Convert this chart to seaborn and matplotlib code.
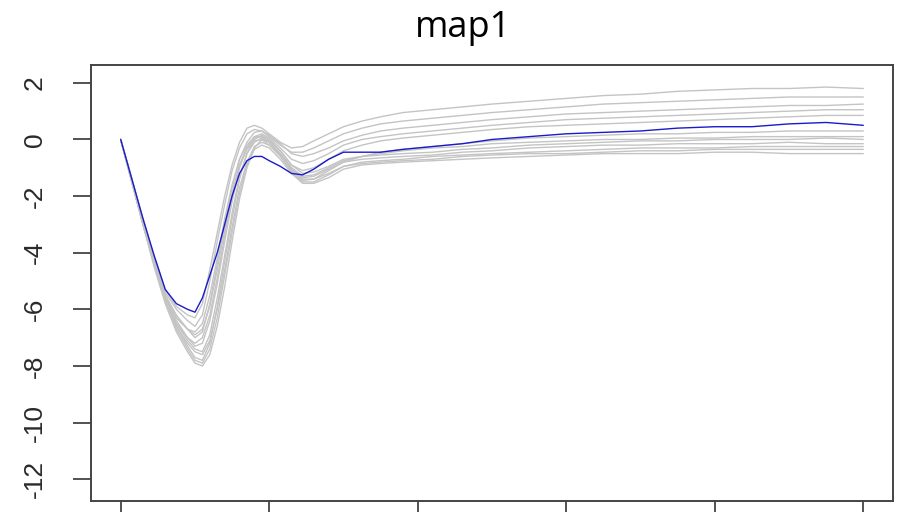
import matplotlib
matplotlib.use("Agg")
import matplotlib.pyplot as plt
import seaborn as sns
import pandas as pd

x = [0, 15, 30, 45, 60, 75, 90, 100, 110, 120, 130, 140, 150, 160, 170, 180, 190, 200,
     215, 230, 245, 260, 280, 300, 325, 350, 380, 420, 460, 500, 550, 600, 650, 700,
     750, 800, 850, 900, 950, 1000]

blue = [0, -1.4, -2.8, -4.1, -5.3, -5.8, -6.0, -6.1, -5.6, -4.8, -4.0, -3.0, -2.0, -1.2,
        -0.75, -0.6, -0.6, -0.75, -0.95, -1.2, -1.25, -1.05, -0.7, -0.45, -0.45, -0.45,
        -0.35, -0.25, -0.15, 0.0, 0.1, 0.2, 0.25, 0.3, 0.4, 0.45, 0.45, 0.55, 0.6, 0.5]

g1 = [0, -1.4, -2.8, -4.1, -5.3, -5.9, -6.2, -6.3, -5.8, -4.6, -3.3, -2.0, -0.9, -0.1, 0.4,
      0.5, 0.4, 0.2, -0.1, -0.3, -0.25, -0.05, 0.2, 0.45, 0.65, 0.8, 0.95, 1.05, 1.15, 1.25,
      1.35, 1.45, 1.55, 1.6, 1.7, 1.75, 1.8, 1.8, 1.85, 1.8]
g2 = [0, -1.4, -2.9, -4.2, -5.4, -6.0, -6.4, -6.6, -6.2, -5.0, -3.6, -2.3, -1.1, -0.3, 0.2,
      0.35, 0.3, 0.1, -0.2, -0.45, -0.45, -0.3, -0.05, 0.2, 0.4, 0.55, 0.65, 0.75, 0.85,
      0.95, 1.05, 1.15, 1.25, 1.3, 1.35, 1.4, 1.45, 1.5, 1.5, 1.5]
g3 = [0, -1.5, -3.0, -4.3, -5.5, -6.2, -6.7, -7.0, -6.8, -5.8, -4.4, -3.0, -1.7, -0.7, -0.1,
      0.25, 0.3, 0.15, -0.15, -0.5, -0.6, -0.5, -0.3, -0.05, 0.15, 0.3, 0.4, 0.5, 0.6, 0.7,
      0.8, 0.9, 0.95, 1.0, 1.05, 1.1, 1.15, 1.2, 1.2, 1.25]
g4 = [0, -1.5, -3.0, -4.4, -5.6, -6.4, -7.0, -7.3, -7.2, -6.4, -5.1, -3.6, -2.2, -1.0, -0.3,
      0.1, 0.2, 0.05, -0.3, -0.7, -0.85, -0.75, -0.5, -0.2, 0.0, 0.1, 0.2, 0.3, 0.4, 0.5,
      0.6, 0.7, 0.75, 0.8, 0.85, 0.9, 0.95, 1.0, 1.05, 1.05]
g5 = [0, -1.4, -2.9, -4.3, -5.6, -6.6, -7.3, -7.7, -7.8, -7.2, -5.9, -4.3, -2.8, -1.4, -0.5,
      0.0, 0.15, 0.0, -0.4, -0.9, -1.1, -1.0, -0.7, -0.4, -0.2, -0.05, 0.05, 0.15, 0.25,
      0.35, 0.45, 0.5, 0.55, 0.6, 0.65, 0.7, 0.75, 0.8, 0.85, 0.85]
g6 = [0, -1.5, -3.0, -4.5, -5.8, -6.8, -7.5, -7.9, -8.0, -7.6, -6.6, -5.2, -3.6, -2.1, -1.0,
      -0.3, 0.0, -0.1, -0.5, -1.1, -1.45, -1.4, -1.1, -0.8, -0.6, -0.45, -0.35, -0.25,
      -0.15, -0.05, 0.05, 0.1, 0.15, 0.2, 0.2, 0.25, 0.25, 0.3, 0.3, 0.3]
g7 = [0, -1.4, -2.9, -4.3, -5.6, -6.5, -7.1, -7.4, -7.5, -6.9, -5.6, -4.1, -2.6, -1.3, -0.5,
      -0.1, 0.05, -0.1, -0.5, -1.0, -1.3, -1.25, -1.0, -0.75, -0.6, -0.5, -0.4, -0.3,
      -0.25, -0.15, -0.1, -0.05, 0.0, 0.0, 0.05, 0.05, 0.1, 0.1, 0.1, 0.1]
g8 = [0, -1.5, -3.0, -4.4, -5.7, -6.5, -7.0, -7.2, -7.0, -6.2, -4.9, -3.4, -2.0, -0.9, -0.3,
      0.05, 0.1, -0.05, -0.4, -0.9, -1.2, -1.15, -0.95, -0.7, -0.6, -0.55, -0.5, -0.45,
      -0.35, -0.3, -0.2, -0.15, -0.1, -0.05, -0.05, 0.0, 0.0, 0.0, 0.05, 0.0]
g9 = [0, -1.4, -2.8, -4.2, -5.5, -6.3, -6.7, -6.8, -6.5, -5.5, -4.2, -2.8, -1.6, -0.7, -0.2,
      0.1, 0.1, -0.1, -0.5, -1.0, -1.35, -1.3, -1.05, -0.8, -0.7, -0.65, -0.6, -0.55,
      -0.45, -0.4, -0.3, -0.25, -0.2, -0.2, -0.15, -0.15, -0.15, -0.1, -0.15, -0.15]
g10 = [0, -1.5, -2.9, -4.3, -5.6, -6.6, -7.2, -7.5, -7.6, -7.1, -6.0, -4.6, -3.1, -1.7, -0.8,
       -0.25, -0.1, -0.2, -0.6, -1.15, -1.5, -1.5, -1.25, -0.95, -0.8, -0.75, -0.7, -0.6,
       -0.55, -0.5, -0.45, -0.4, -0.35, -0.3, -0.3, -0.3, -0.25, -0.25, -0.25, -0.25]
g11 = [0, -1.4, -2.9, -4.3, -5.5, -6.3, -6.7, -6.9, -6.7, -5.9, -4.6, -3.2, -1.9, -0.9, -0.35,
       -0.05, 0.0, -0.2, -0.55, -1.05, -1.4, -1.4, -1.2, -0.95, -0.85, -0.8, -0.75, -0.7,
       -0.6, -0.55, -0.5, -0.5, -0.45, -0.4, -0.4, -0.35, -0.35, -0.35, -0.35, -0.35]
g12 = [0, -1.5, -3.0, -4.4, -5.7, -6.7, -7.4, -7.8, -7.9, -7.4, -6.3, -4.8, -3.3, -1.9, -0.9,
       -0.35, -0.2, -0.3, -0.7, -1.2, -1.55, -1.55, -1.35, -1.05, -0.9, -0.85, -0.8, -0.75,
       -0.7, -0.65, -0.6, -0.55, -0.5, -0.5, -0.5, -0.45, -0.45, -0.5, -0.5, -0.5]

gray_lines = [g1, g2, g3, g4, g5, g6, g7, g8, g9, g10, g11, g12]
yticks = [2, 0, -2, -4, -6, -8, -10, -12]
xticks = [0, 200, 400, 600, 800, 1000]
title = "map1"

sns.set_theme(style="white")
plt.rcParams['font.family'] = ['Liberation Sans', 'DejaVu Sans']

rows = []
for k, ys in enumerate(gray_lines):
    for xv, yv in zip(x, ys):
        rows.append({"x": xv, "y": yv, "line": k})
df_gray = pd.DataFrame(rows)
df_blue = pd.DataFrame({"x": x, "y": blue})

fig = plt.figure(figsize=(8.97, 5.12), dpi=100)
ax = fig.add_axes([91 / 897, 11 / 512, (893 - 91) / 897, (501 - 65) / 512])

sns.lineplot(data=df_gray, x="x", y="y", units="line", estimator=None,
             color="#c4c4c4", linewidth=1.0, ax=ax, legend=False)
sns.lineplot(data=df_blue, x="x", y="y", color="#1a1acc", linewidth=1.0, ax=ax)

ax.set_xlim(-40, 1040)
ax.set_ylim(-12.77, 2.63)
ax.set_xticks(xticks)
ax.set_xticklabels([])
ax.set_yticks(yticks)
ax.set_yticklabels([str(t) for t in yticks], rotation=90, va="center", fontsize=19,
                   color="#2a2a2a")
ax.tick_params(axis="both", direction="out", length=13, width=1.3, color="#444444",
               left=True, bottom=True)
ax.tick_params(axis="y", pad=19)
ax.set_xlabel("")
ax.set_ylabel("")
for s in ax.spines.values():
    s.set_visible(True)
    s.set_color("#444444")
    s.set_linewidth(1.4)

fig.text(463 / 897, 1 - 37 / 512, title, ha="center", va="baseline",
         fontsize=26, family=["Open Sans", "DejaVu Sans"], color="#000000")

fig.savefig("out.png", dpi=100, facecolor="white")
